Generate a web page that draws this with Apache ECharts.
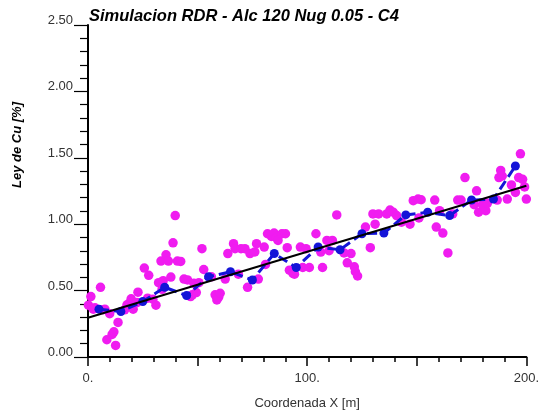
<!DOCTYPE html>
<html>
<head>
<meta charset="utf-8">
<script src="https://cdn.jsdelivr.net/npm/echarts@6/dist/echarts.min.js"></script>
<style>
  html, body { margin: 0; padding: 0; background: #fff; }
  #canvas { width: 542px; height: 415px; }
</style>
</head>
<body>
<div id="canvas"></div>
<script>
/* eslint-disable no-undef */
const chart = echarts.init(document.getElementById('canvas'));

// muestras (magenta)
const sampleX = [
  0.2, 1.3, 2.4, 3.2, 5.7, 6.9, 7.7, 8.6, 9.9, 11.0, 11.8, 12.6, 13.7, 16.7, 17.8,
  19.2, 19.7, 20.6, 22.3, 22.8, 25.7, 27.2, 27.7, 29.6, 31.0, 32.2, 33.3, 33.8, 34.3,
  35.6, 36.7, 37.8, 38.8, 39.8, 40.8, 42.3, 43.8, 45.4, 46.8, 47.6, 48.3, 49.4, 50.6,
  52.0, 52.8, 56.3, 58.0, 58.8, 59.6, 60.3, 62.6, 63.8, 66.4, 67.1, 68.6, 69.8, 71.6,
  72.8, 73.9, 76.1, 76.9, 77.7, 80.4, 81.0, 81.9, 83.7, 84.9, 85.9, 86.7, 88.5, 90.1,
  90.9, 91.9, 93.5, 94.2, 96.9, 98.0, 99.5, 101.0, 104.0, 106.2, 107.0, 109.0, 110.0,
  111.5, 113.5, 116.8, 118.3, 120.0, 121.5, 122.0, 123.0, 126.6, 128.8, 130.0, 131.0,
  132.6, 136.3, 137.8, 139.3, 140.8, 143.0, 146.9, 148.4, 150.6, 151.0, 152.0, 158.2,
  158.9, 160.4, 161.9, 164.2, 166.4, 168.7, 170.2, 172.0, 176.2, 177.3, 178.2, 180.0,
  181.5, 182.2, 186.7, 187.5, 188.3, 189.0, 191.3, 193.2, 195.0, 196.5, 197.3, 198.3,
  199.2, 200.0
];
const sampleY = [
  0.39, 0.455, 0.36, 0.37, 0.525, 0.356, 0.36, 0.13, 0.326, 0.17, 0.19, 0.087, 0.26, 0.355, 0.393,
  0.41, 0.438, 0.36, 0.41, 0.488, 0.67, 0.443, 0.615, 0.435, 0.39, 0.56, 0.722, 0.51, 0.575,
  0.77, 0.722, 0.602, 0.86, 1.065, 0.722, 0.72, 0.587, 0.58, 0.455, 0.468, 0.555, 0.485, 0.56,
  0.816, 0.659, 0.604, 0.468, 0.43, 0.45, 0.48, 0.587, 0.779, 0.853, 0.816, 0.624, 0.816, 0.816,
  0.525, 0.779, 0.791, 0.853, 0.587, 0.828, 0.697, 0.928, 0.908, 0.933, 0.898, 0.878, 0.928, 0.928,
  0.823, 0.654, 0.63, 0.624, 0.828, 0.674, 0.816, 0.674, 0.928, 0.79, 0.674, 0.878, 0.80,
  0.878, 1.07, 0.784, 0.709, 0.779, 0.679, 0.642, 0.61, 0.978, 0.823, 1.077, 1.0,
  1.077, 1.077, 1.107, 1.09, 1.065, 1.015, 1.0, 1.177, 1.189, 1.047, 1.184, 1.182,
  0.978, 1.102, 0.933, 0.784, 1.077, 1.182, 1.182, 1.351, 1.147, 1.251, 1.09, 1.147,
  1.102, 1.157, 1.182, 1.351, 1.405, 1.363, 1.189, 1.296, 1.239, 1.351, 1.53, 1.338,
  1.281, 1.189
];

// simulacion promedio (azul)
const simX = [5, 15, 25, 35, 45, 55, 65, 75, 85, 95, 105, 115, 125, 135, 145, 155, 165, 175, 185, 195];
const simY = [0.36, 0.343, 0.418, 0.525, 0.463, 0.604, 0.642, 0.58, 0.779, 0.674,
  0.828, 0.808, 0.928, 0.933, 1.07, 1.09, 1.065, 1.182, 1.189, 1.438];

// tendencia (negra)
const trendX = [0, 200];
const trendY = [0.295, 1.29];

const zip = (xs, ys) => xs.map((x, i) => [x, ys[i]]);

const font = 'Liberation Sans';

const option = {
  animation: false,
  title: {
    text: 'Simulacion RDR - Alc 120 Nug 0.05 - C4',
    left: 89,
    top: 8,
    padding: 0,
    textStyle: {
      fontFamily: font,
      fontSize: 16.5,
      fontWeight: 'bold',
      fontStyle: 'italic',
      color: '#000',
    },
  },
  grid: { left: 88, right: 11, top: 25, bottom: 57 },
  xAxis: {
    type: 'value',
    min: 0,
    max: 200,
    interval: 50,
    name: 'Coordenada X [m]',
    nameLocation: 'middle',
    nameGap: 40,
    nameTextStyle: { fontFamily: font, fontSize: 13, color: '#333' },
    axisLine: { onZero: false, lineStyle: { color: '#000', width: 2 } },
    axisTick: { length: 9, lineStyle: { color: '#000', width: 1.5 } },
    minorTick: { show: true, splitNumber: 5, length: 5, lineStyle: { color: '#000', width: 1.5 } },
    splitLine: { show: false },
    axisLabel: {
      margin: 15,
      fontFamily: font,
      fontSize: 13,
      color: '#333',
      showMaxLabel: true,
      formatter: (v) => (v % 100 === 0 ? v + '.' : ''),
    },
  },
  yAxis: {
    type: 'value',
    min: 0,
    max: 2.5,
    interval: 0.5,
    axisLine: { show: true, lineStyle: { color: '#000', width: 2 } },
    axisTick: { show: true, length: 14, lineStyle: { color: '#000', width: 1.2 } },
    minorTick: { show: true, splitNumber: 5, length: 8, lineStyle: { color: '#000', width: 1.2 } },
    splitLine: { show: false },
    axisLabel: {
      margin: 15,
      fontFamily: font,
      fontSize: 13,
      color: '#333',
      verticalAlign: 'bottom',
      lineHeight: 9,
      formatter: (v) => v.toFixed(2),
    },
  },
  graphic: [
    {
      type: 'text',
      x: 17,
      y: 145,
      rotation: Math.PI / 2,
      style: {
        text: 'Ley de Cu [%]',
        font: 'italic bold 13px "Liberation Sans"',
        fill: '#000',
        align: 'center',
        verticalAlign: 'middle',
      },
    },
  ],
  series: [
    {
      type: 'scatter',
      data: zip(sampleX, sampleY),
      symbolSize: 9.5,
      itemStyle: { color: '#f01cf0', opacity: 1 },
      z: 2,
    },
    {
      type: 'line',
      data: zip(simX, simY),
      symbol: 'circle',
      symbolSize: 9,
      lineStyle: { color: '#1414d8', width: 3, type: [10, 5] },
      itemStyle: { color: '#1414d8' },
      z: 3,
    },
    {
      type: 'line',
      data: zip(trendX, trendY),
      symbol: 'none',
      lineStyle: { color: '#000', width: 2 },
      z: 4,
    },
  ],
};

chart.setOption(option);

window.onresize = chart.resize;
</script>
</body>
</html>
